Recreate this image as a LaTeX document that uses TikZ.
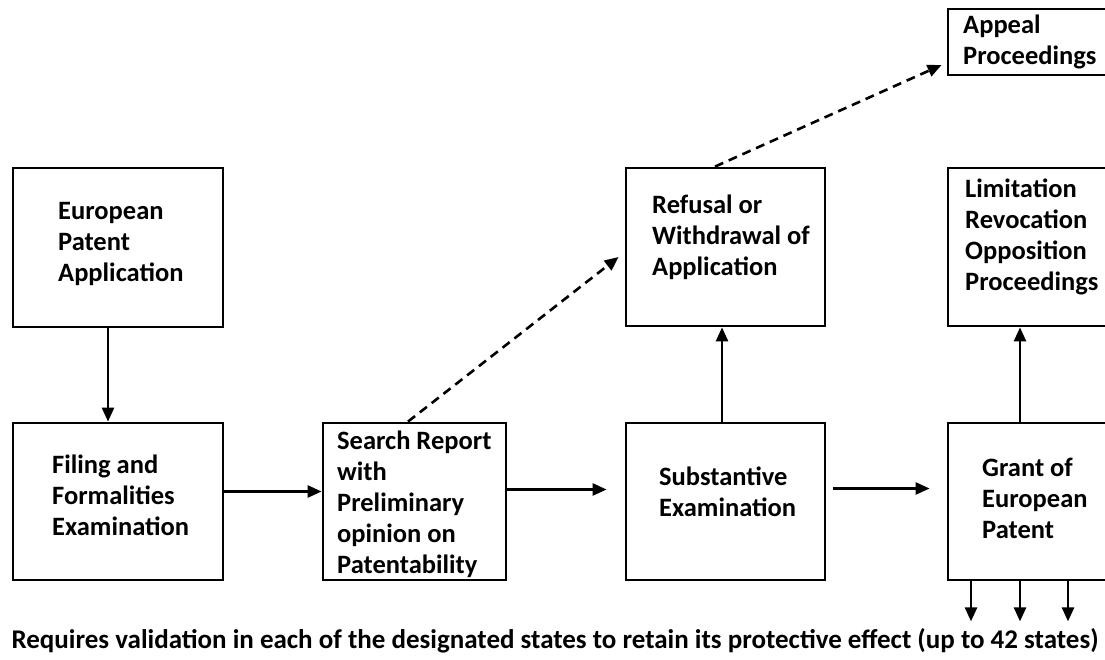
\documentclass[tikz,border=0pt]{standalone}
\usepackage{fontspec}
\setmainfont{Carlito}
\usetikzlibrary{positioning, arrows.meta, calc}
\tikzset{
    >={Triangle[length=14pt, width=12pt]},
    box/.style={draw, line width=2.8pt, rectangle, inner sep=0pt},
    txt/.style={anchor=west, align=left, inner sep=0pt,
        font=\fontsize{26.5}{31}\selectfont\bfseries},
    flow/.style={->, line width=2.6pt},
    maybe/.style={flow, dash pattern=on 9pt off 6pt},
}

\begin{document}
\begin{tikzpicture}[x=1pt, y=-1pt]
    \useasboundingbox (0,0) rectangle (1105,660);
    \clip (0,0) rectangle (1105,660);

    % boxes
    \node[box, minimum width=210pt, minimum height=159pt] (epa) at (118,247.5) {};
    \node[box, minimum width=210pt, minimum height=157pt] (filing) at (118,501.5) {};
    \node[box, minimum width=183pt, minimum height=157pt] (search) at (414.5,501.5) {};
    \node[box, minimum width=199pt, minimum height=158pt] (refusal) at (725.5,247) {};
    \node[box, minimum width=199pt, minimum height=157pt] (subst) at (725.5,501.5) {};
    \node[box, minimum width=172pt, minimum height=66pt] (appeal) at (1034,42) {};
    \node[box, minimum width=172pt, minimum height=158pt] (limit) at (1034,247) {};
    \node[box, minimum width=172pt, minimum height=157pt] (grant) at (1034,501.5) {};

    % texts
    \node[txt] (epa-t) at (58,244) {European\\Patent\\Application};
    \node[txt] (filing-t) at (52,495.5) {Filing and\\Formalities\\Examination};
    \node[txt] (search-t) at (337,504) {Search Report\\with\\Preliminary\\opinion on\\Patentability};
    \node[txt] (refusal-t) at (652,237.5) {Refusal or\\Withdrawal of\\Application};
    \node[txt] (subst-t) at (659,492) {Substantive\\Examination};
    \node[txt] (appeal-t) at (963,41.5) {Appeal\\Proceedings};
    \node[txt] (limit-t) at (965,237) {Limitation\\Revocation\\Opposition\\Proceedings};
    \node[txt] (grant-t) at (982,498) {Grant of\\European\\Patent};
    \node[txt, anchor=center, font=\fontsize{27}{31}\selectfont\bfseries] (note) at (555,641)
        {Requires validation in each of the designated states to retain its protective effect (up to 42 states)};

    % connectors
    \draw[flow] ($(epa.south)+(-10,0)$) -- ($(filing.north)+(-10,0)$);
    \draw[flow] ($(filing.east)+(0,-10)$) -- ($(search.west)+(0,-10)$);
    \draw[flow] ($(search.east)+(0,-12)$) -- ($(subst.west)+(-18,-12)$);
    \draw[flow] ($(subst.east)+(7,-13)$) -- ($(grant.west)+(-17,-13)$);
    \draw[flow] ($(subst.north)+(-3.5,0)$) -- ($(refusal.south)+(-3.5,0)$);
    \draw[flow] ($(grant.north)+(-14,0)$) -- ($(limit.south)+(-14,0)$);
    \draw[maybe] ($(search.north)+(-6.5,0)$) -- ($(refusal.west)+(-6,10)$);
    \draw[maybe] ($(refusal.north)+(-10.5,0)$) -- ($(appeal.west)+(-5,23)$);
    \foreach \dx in {-63,-14,34}
        \draw[flow] ($(grant.south)+(\dx,0)$) -- +(0,40);
\end{tikzpicture}
\end{document}
